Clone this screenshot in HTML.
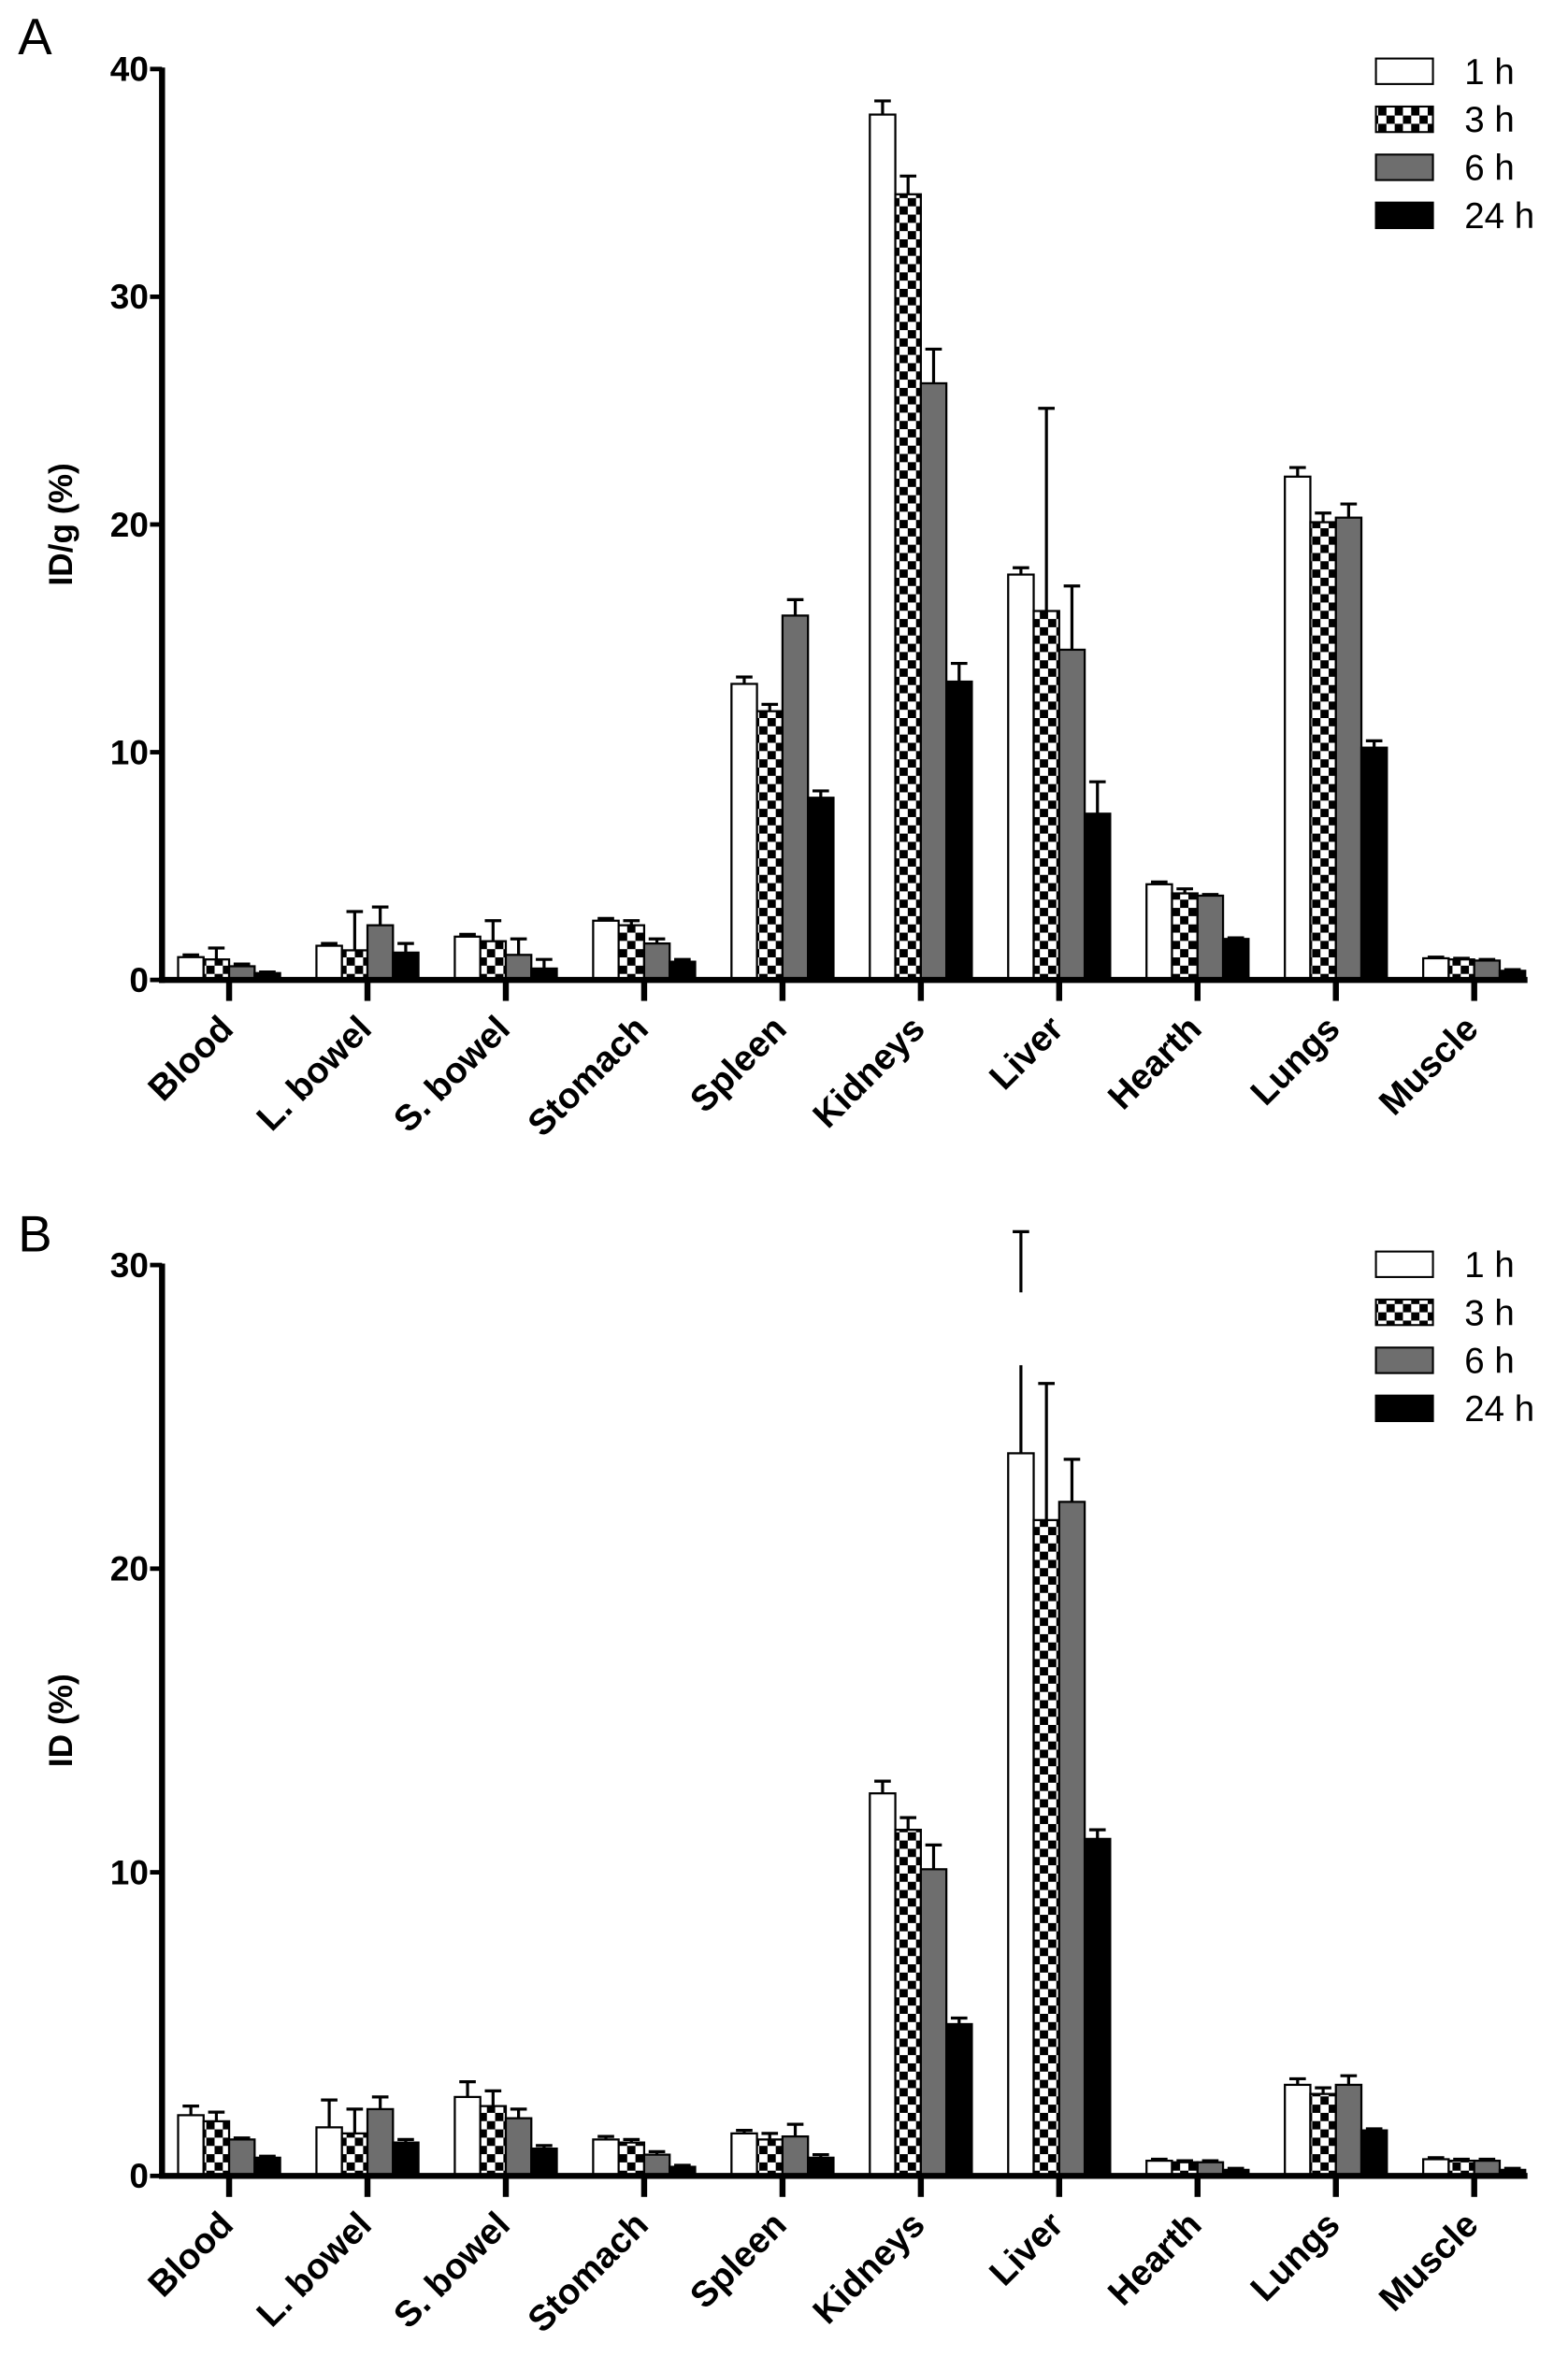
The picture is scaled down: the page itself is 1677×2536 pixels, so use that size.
<!DOCTYPE html>
<html><head><meta charset="utf-8"><style>
html,body{margin:0;padding:0;background:#fff}
svg{display:block}
text{font-family:"Liberation Sans",sans-serif}
</style></head><body>
<svg id="fig" width="1677" height="2536" viewBox="0 0 1045 1580" preserveAspectRatio="none" xmlns="http://www.w3.org/2000/svg">
<defs>
<pattern id="chk" patternUnits="userSpaceOnUse" width="11" height="11">
<rect width="11" height="11" fill="#fff"/><rect width="5.5" height="5.5" fill="#000"/><rect x="5.5" y="5.5" width="5.5" height="5.5" fill="#000"/>
</pattern>
</defs>
</svg>
<script>
const categories=["Blood","L. bowel","S. bowel","Stomach","Spleen","Kidneys","Liver","Hearth","Lungs","Muscle"];
const seriesNames=["1 h","3 h","6 h","24 h"];
const aH1=[1.0,1.5,1.9,2.6,13.0,38.0,17.8,4.2,22.1,0.95];
const aH3=[0.9,1.3,1.7,2.4,11.8,34.5,16.2,3.8,20.1,0.9];
const aH6=[0.6,2.4,1.1,1.6,16.0,26.2,14.5,3.7,20.3,0.85];
const aH24=[0.3,1.2,0.5,0.8,8.0,13.1,7.3,1.8,10.2,0.4];
const aE1=[0.1,0.1,0.1,0.1,0.3,0.6,0.3,0.1,0.4,0.05];
const aE3=[0.5,1.7,0.9,0.2,0.3,0.8,8.9,0.2,0.4,0.05];
const aE6=[0.1,0.8,0.7,0.2,0.7,1.5,2.8,0.05,0.6,0.05];
const aE24=[0.05,0.4,0.4,0.1,0.3,0.8,1.4,0.05,0.3,0.05];
const bH1=[2.0,1.6,2.6,1.2,1.4,12.6,23.8,0.5,3.0,0.55];
const bH3=[1.8,1.4,2.3,1.1,1.2,11.4,21.6,0.45,2.7,0.5];
const bH6=[1.2,2.2,1.9,0.7,1.3,10.1,22.2,0.45,3.0,0.5];
const bH24=[0.6,1.1,0.9,0.3,0.6,5.0,11.1,0.2,1.5,0.2];
const bE1=[0.3,0.9,0.5,0.1,0.1,0.4,7.3,0.05,0.2,0.05];
const bE3=[0.3,0.8,0.5,0.1,0.2,0.4,4.5,0.05,0.2,0.05];
const bE6=[0.05,0.4,0.3,0.1,0.4,0.8,1.4,0.05,0.3,0.05];
const bE24=[0.05,0.1,0.1,0.05,0.1,0.2,0.3,0.05,0.05,0.05];
const aTicks=[0,10,20,30,40];
const bTicks=[0,10,20,30];

const NS="http://www.w3.org/2000/svg";
const svg=document.getElementById('fig');
const fills=["#fff","url(#chk)","#6e6e6e","#000"];
function mk(tag,attrs,parent){const e=document.createElementNS(NS,tag);for(const k in attrs)e.setAttribute(k,attrs[k]);(parent||svg).appendChild(e);return e;}

function panel(opt){
  const g=mk('g',{});
  
  
  const x0=108,xEnd=1018,y0=opt.y0,yTop=opt.yTop,vmax=opt.vmax;
  const yS=v=>y0-(v/vmax)*(y0-yTop);
  const bw=17;
  const center=i=>152.7+i*92.2;
  const groupX=i=>center(i)-2*bw;
  const L=mk('text',{x:12,y:opt.letterY,'font-size':34},g);L.textContent=opt.letter;
  
  
  const vals=opt.vals,errs=opt.errs;
  categories.forEach((c,i)=>{
    for(let s=0;s<4;s++){
      const v=vals[s][i],e=errs[s][i];
      const bx=groupX(i)+s*bw, by=yS(v);
      const cx=bx+bw/2, ey=yS(v+e);
      const el=mk('line',{x1:cx,x2:cx,y1:by,y2:ey,stroke:'#000','stroke-width':2},g);
      
      
      const cap=mk('line',{x1:cx-5.5,x2:cx+5.5,y1:ey,y2:ey,stroke:'#000','stroke-width':2},g);
      
      
      if(opt.gap&&opt.gap.i===i&&opt.gap.s===s){
        const gp=mk('rect',{x:cx-2,y:yS(opt.gap.hi),width:4,height:yS(opt.gap.lo)-yS(opt.gap.hi),fill:'#fff'},g);
        
        
      }
      const r=mk('rect',{x:bx,y:by,width:bw,height:y0-by,fill:fills[s],stroke:'#000','stroke-width':1.4},g);
      
      
    }
    const tx=center(i);
    const t=mk('line',{x1:tx,x2:tx,y1:y0,y2:y0+14,stroke:'#000','stroke-width':4},g);
    
    
    const lb=mk('text',{x:tx+4,y:y0+34,'font-size':24,'font-weight':'bold','text-anchor':'end',transform:`rotate(-45 ${tx+4} ${y0+34})`},g);
    lb.textContent=c;
    
    
  });
  const ya=mk('line',{x1:x0,x2:x0,y1:yTop-1,y2:y0+2,stroke:'#000','stroke-width':4},g);
  
  
  const xa=mk('line',{x1:x0-2,x2:xEnd,y1:y0,y2:y0,stroke:'#000','stroke-width':4},g);
  
  
  opt.ticks.forEach(tv=>{
    const y=yS(tv);
    const tk=mk('line',{x1:x0-8,x2:x0,y1:y,y2:y,stroke:'#000','stroke-width':3},g);
    
    
    const tl=mk('text',{x:x0-9,y:y+8,'font-size':23,'font-weight':'bold','text-anchor':'end'},g);
    tl.textContent=tv;
    
    
  });
  const yc=(y0+yTop)/2;
  const yt=mk('text',{x:48,y:yc,'font-size':22,'font-weight':'bold','text-anchor':'middle',transform:`rotate(-90 48 ${yc})`},g);
  yt.textContent=opt.title;
  
  
  seriesNames.forEach((n,s)=>{
    const ly=opt.legY+s*32;
    const lr=mk('rect',{x:917,y:ly,width:38,height:17,fill:fills[s],stroke:'#000','stroke-width':1.3},g);
    
    
    const lt=mk('text',{x:976,y:ly+17,'font-size':24},g);
    lt.textContent=n;
    
    
  });
}
panel({name:'panel-a',letter:'A',letterY:36,y0:653,yTop:46,vmax:40,ticks:aTicks,title:'ID/g (%)',legY:39,
  vals:[aH1,aH3,aH6,aH24],errs:[aE1,aE3,aE6,aE24]});
panel({name:'panel-b',letter:'B',letterY:834,y0:1450,yTop:843,vmax:30,ticks:bTicks,title:'ID (%)',legY:834,
  vals:[bH1,bH3,bH6,bH24],errs:[bE1,bE3,bE6,bE24],gap:{i:6,s:0,lo:26.7,hi:29.1}});
</script>
</body></html>
